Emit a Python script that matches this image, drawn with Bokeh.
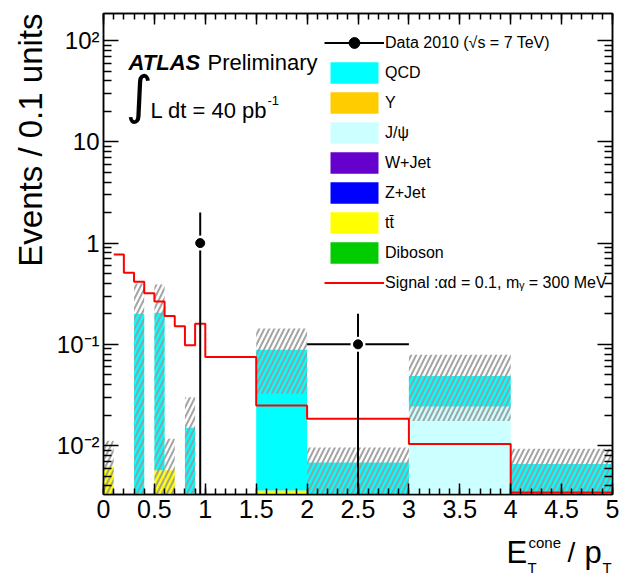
import numpy as np
from bokeh.plotting import figure
from bokeh.layouts import column
from bokeh.models import (Range1d, LinearAxis, LogAxis, FixedTicker, SingleIntervalTicker,
                          CustomJSTickFormatter, Legend, LegendItem, Label, Title, ColumnDataSource)
from bokeh.embed import file_html
from bokeh.resources import INLINE

# ---------------- data ----------------
bin_edges = [0.0, 0.1, 0.2, 0.3, 0.4, 0.5, 0.6, 0.7, 0.8, 0.9, 1.0, 1.5, 2.0, 3.0, 4.0, 5.0]
ttbar = [0.0062, 0, 0, 0, 0, 0.0057, 0.0057, 0, 0, 0, 0, 0.0036, 0, 0, 0]
jpsi = [0, 0, 0, 0, 0, 0, 0, 0, 0, 0, 0, 0, 0, 0.0243, 0]
qcd = [0, 0, 0, 0.2, 0, 0.2, 0, 0, 0.015, 0, 0, 0.085, 0.0068, 0.0244, 0.0066]
upsilon = [0] * 15
wjet = [0] * 15
zjet = [0] * 15
diboson = [0] * 15
unc_up = [0.0112, 0, 0, 0.40, 0, 0.39, 0.0117, 0, 0.030, 0, 0, 0.143, 0.0096, 0.079, 0.0093]
unc_dn = [0, 0, 0, 0, 0, 0, 0, 0, 0, 0, 0, 0.0325, 0, 0.0175, 0]

signal_edges = bin_edges[1:]
signal = [0.77, 0.51, 0.415, 0.32, 0.265, 0.19, 0.151, 0.098, 0.16, 0.075,
          0.0249, 0.0184, 0.0104, 0.00345]

data_x = [0.95, 2.5]
data_y = [1.0, 0.1]
data_xerr = [0.05, 0.5]
data_yerr = [1.0, 0.1]

y_decades = [0.01, 0.1, 1, 10, 100]

legend_labels = ["Data 2010 (√s = 7 TeV)", "QCD", "Υ", "J/ψ", "W+Jet", "Z+Jet", "tt̄", "Diboson",
                 "Signal :αd = 0.1, mᵧ = 300 MeV"]
colors = {"QCD": "#00FFFF", "Upsilon": "#FFCC00", "Jpsi": "#CCFFFF", "WJet": "#6600CC",
          "ZJet": "#0000FF", "ttbar": "#FFFF00", "Diboson": "#00CC00"}

FONT = "Liberation Sans"
YMIN, YMAX = 0.00329, 185.0
FLOOR = 1e-5

p = figure(width=619, height=534, x_range=Range1d(0, 5), y_range=Range1d(YMIN, YMAX),
           y_axis_type="log", output_backend="svg", toolbar_location=None,
           min_border_left=103, min_border_right=7, min_border_top=13, min_border_bottom=40)
p.xgrid.visible = False
p.ygrid.visible = False
p.outline_line_color = "black"
p.outline_line_width = 1.5
p.background_fill_color = "white"
p.border_fill_color = "white"

left = np.array(bin_edges[:-1])
right = np.array(bin_edges[1:])


def stack_quads(vals, base, color):
    vals = np.array(vals, dtype=float)
    bottom = np.maximum(base, FLOOR)
    top = np.maximum(base + vals, FLOOR)
    src = ColumnDataSource(dict(left=left, right=right, bottom=bottom, top=top))
    r = p.quad(left="left", right="right", bottom="bottom", top="top", source=src,
               fill_color=color, line_color=None)
    return r, base + vals


base0 = np.zeros(len(left))
r_tt, c1 = stack_quads(ttbar, base0, colors["ttbar"])
r_db, c2 = stack_quads(diboson, c1, colors["Diboson"])
r_z, c3 = stack_quads(zjet, c2, colors["ZJet"])
r_w, c4 = stack_quads(wjet, c3, colors["WJet"])
r_jp, c5 = stack_quads(jpsi, c4, colors["Jpsi"])
r_ups, c6 = stack_quads(upsilon, c5, colors["Upsilon"])
r_qcd, c7 = stack_quads(qcd, c6, colors["QCD"])

# uncertainty band (hatched)
up = np.array(unc_up)
dn = np.array(unc_dn)
mu = up > 0
band = ColumnDataSource(dict(left=left[mu], right=right[mu],
                             bottom=np.where(dn[mu] > 0, dn[mu], FLOOR), top=up[mu]))
p.quad(left="left", right="right", bottom="bottom", top="top", source=band,
       fill_alpha=0, line_color=None, hatch_pattern="/", hatch_color="#9a9a9a",
       hatch_scale=10, hatch_weight=2, hatch_alpha=0.9)

# signal
r_sig = p.step(x=signal_edges, y=signal + [signal[-1]], mode="after", line_color="#FF0000",
               line_width=2)

# data
dx = np.array(data_x)
dy = np.array(data_y)
dxe = np.array(data_xerr)
dye = np.array(data_yerr)
r_dh = p.segment(x0=dx - dxe, y0=dy, x1=dx + dxe, y1=dy, line_color="black", line_width=2)
p.segment(x0=dx, y0=np.maximum(dy - dye, FLOOR), x1=dx, y1=dy + dye, line_color="black",
          line_width=2)
p.scatter(x=dx, y=dy, size=15, fill_color="white", line_color=None)
r_dm = p.scatter(x=dx, y=dy, size=9, fill_color="black", line_color="black")

# ---------------- axes ----------------
xb = p.xaxis[0]
xb.ticker = SingleIntervalTicker(interval=0.5, num_minor_ticks=5)
xb.formatter = CustomJSTickFormatter(code="return String(Math.round(tick*10)/10);")
xb.major_tick_in = 11
xb.major_tick_out = 0
xb.minor_tick_in = 6
xb.minor_tick_out = 0
xb.major_label_text_font = FONT
xb.major_label_text_font_size = "25px"
xb.major_label_text_color = "black"
xb.major_label_standoff = 5
xb.axis_line_width = 1.5
xb.major_tick_line_width = 1.5
xb.minor_tick_line_width = 1.5

minor_y = [m * d for d in [0.001, 0.01, 0.1, 1, 10, 100] for m in range(2, 10)]
yb = p.yaxis[0]
yb.ticker = FixedTicker(ticks=y_decades, minor_ticks=minor_y)
yb.formatter = CustomJSTickFormatter(code="""
const e = Math.round(Math.log10(tick));
if (e == 0) return "1";
if (e == 1) return "10";
const sup = {"-": "\u207b", "0": "\u2070", "1": "\u00b9", "2": "\u00b2", "3": "\u00b3"};
return "10" + String(e).split("").map(c => sup[c]).join("");
""")
yb.major_tick_in = 15
yb.major_tick_out = 0
yb.minor_tick_in = 8
yb.minor_tick_out = 0
yb.major_label_text_font = FONT
yb.major_label_text_font_size = "24px"
yb.major_label_text_color = "black"
yb.major_label_standoff = 4
yb.axis_line_width = 1.5
yb.major_tick_line_width = 1.5
yb.minor_tick_line_width = 1.5

blank = CustomJSTickFormatter(code="return '';")
xt = LinearAxis(ticker=SingleIntervalTicker(interval=0.5, num_minor_ticks=5), formatter=blank,
                major_tick_in=11, major_tick_out=0, minor_tick_in=6, minor_tick_out=0,
                major_label_standoff=0, major_label_text_font_size="0px",
                axis_line_width=1.5, major_tick_line_width=1.5, minor_tick_line_width=1.5)
p.add_layout(xt, "above")
yr = LogAxis(ticker=FixedTicker(ticks=y_decades, minor_ticks=minor_y), formatter=blank,
             major_tick_in=15, major_tick_out=0, minor_tick_in=8, minor_tick_out=0,
             major_label_standoff=0, major_label_text_font_size="0px",
             axis_line_width=1.5, major_tick_line_width=1.5, minor_tick_line_width=1.5)
p.add_layout(yr, "right")

p.add_layout(Title(text="Events / 0.1 units", align="right", text_font=FONT,
                   text_font_size="33px", text_font_style="normal", text_color="black"), "left")

# ---------------- legend ----------------
items = [
    LegendItem(label=legend_labels[0], renderers=[r_dh, r_dm]),
    LegendItem(label=legend_labels[1], renderers=[r_qcd]),
    LegendItem(label=legend_labels[2], renderers=[r_ups]),
    LegendItem(label=legend_labels[3], renderers=[r_jp]),
    LegendItem(label=legend_labels[4], renderers=[r_w]),
    LegendItem(label=legend_labels[5], renderers=[r_z]),
    LegendItem(label=legend_labels[6], renderers=[r_tt]),
    LegendItem(label=legend_labels[7], renderers=[r_db]),
    LegendItem(label=legend_labels[8], renderers=[r_sig]),
]
legend = Legend(items=items, location=(221, 198), glyph_width=60, glyph_height=27, spacing=3,
                padding=0, margin=0, label_standoff=1, label_text_font=FONT,
                label_text_font_size="16px", label_text_color="black",
                border_line_color=None, background_fill_alpha=0)
p.add_layout(legend)

# ---------------- annotations ----------------
def lab(fig, text, x, y, size, style="normal", font=FONT):
    fig.add_layout(Label(x=x, y=y, x_units="screen", y_units="screen", text=text,
                         text_font=font, text_font_size=size, text_font_style=style,
                         text_baseline="alphabetic", text_align="left", text_color="black"))


lab(p, "ATLAS", 25, 432, "22px", "bold italic")
lab(p, "Preliminary", 104, 432, "22px")
lab(p, "∫", 22, 400, "52px", font="DejaVu Sans")
lab(p, "L dt = 40 pb", 47, 384, "22px")
lab(p, "-1", 164, 394, "13px")

# x-axis title strip below the plot (its frame is aligned with the main frame)
q = figure(width=619, height=48, x_range=Range1d(0, 1), y_range=Range1d(0, 1),
           output_backend="svg", toolbar_location=None,
           min_border_left=103, min_border_right=7, min_border_top=0, min_border_bottom=0)
q.axis.visible = False
q.xgrid.visible = False
q.ygrid.visible = False
q.outline_line_color = None
q.background_fill_color = "white"
q.border_fill_color = "white"

lab(q, "E", 403, 30, "31px")
lab(q, "cone", 425, 40, "15px")
lab(q, "T", 424, 15, "15px")
lab(q, "/", 464, 30, "28px")
lab(q, "p", 481, 30, "31px")
lab(q, "T", 499, 15, "15px")

open("out.html", "w").write(file_html(column(p, q, spacing=0), INLINE))
